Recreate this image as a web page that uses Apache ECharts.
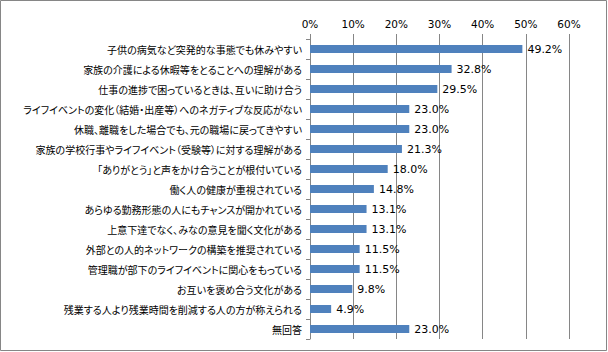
<!DOCTYPE html>
<html>
<head>
<meta charset="utf-8">
<script src="https://cdn.jsdelivr.net/npm/echarts@6/dist/echarts.min.js"></script>
<style>
  html, body { margin: 0; padding: 0; background: #fff; }
  #chart { width: 608px; height: 352px; font-feature-settings: "palt"; }
  #chart text { font-feature-settings: "palt"; }
</style>
</head>
<body>
<div id="chart"></div>
<script>
const categories = [
  '子供の病気など突発的な事態でも休みやすい',
  '家族の介護による休暇等をとることへの理解がある',
  '仕事の進捗で困っているときは、互いに助け合う',
  'ライフイベントの変化（結婚・出産等）へのネガティブな反応がない',
  '休職、離職をした場合でも、元の職場に戻ってきやすい',
  '家族の学校行事やライフイベント（受験等）に対する理解がある',
  '「ありがとう」と声をかけ合うことが根付いている',
  '働く人の健康が重視されている',
  'あらゆる勤務形態の人にもチャンスが開かれている',
  '上意下達でなく、みなの意見を聞く文化がある',
  '外部との人的ネットワークの構築を推奨されている',
  '管理職が部下のライフイベントに関心をもっている',
  'お互いを褒め合う文化がある',
  '残業する人より残業時間を削減する人の方が称えられる',
  '無回答'
]
const values = [49.2, 32.8, 29.5, 23.0, 23.0, 21.3, 18.0, 14.8, 13.1, 13.1, 11.5, 11.5, 9.8, 4.9, 23.0]

const gridColor = '#868686'
const chart = echarts.init(document.getElementById('chart'), null, { renderer: 'svg' })
chart.setOption({
  animation: false,
  backgroundColor: '#fff',
  graphic: [
    {
      type: 'rect',
      shape: { x: 0.5, y: 0.5, width: 606, height: 350 },
      style: { fill: 'none', stroke: gridColor, lineWidth: 1 },
      silent: true
    }
  ],
  grid: { left: 310, right: 39, top: 39, bottom: 13, outerBoundsMode: 'none', containLabel: false },
  xAxis: {
    type: 'value',
    position: 'top',
    min: 0,
    max: 60,
    interval: 10,
    axisLine: { show: false },
    axisTick: { show: true, length: 5, lineStyle: { color: gridColor } },
    splitLine: { show: true, lineStyle: { color: gridColor, width: 1 } },
    axisLabel: {
      formatter: '{value}%',
      color: '#000',
      fontFamily: 'DejaVu Sans',
      fontSize: 10.5,
      margin: 10
    }
  },
  yAxis: {
    type: 'category',
    inverse: true,
    data: categories,
    axisLine: { show: true, lineStyle: { color: gridColor } },
    axisTick: { show: true, length: 4, lineStyle: { color: gridColor } },
    axisLabel: {
      color: '#000',
      fontFamily: 'Noto Sans CJK JP',
      fontSize: 10,
      margin: 8
    }
  },
  series: [
    {
      type: 'bar',
      data: values,
      barWidth: 8,
      itemStyle: { color: '#4F81BD' },
      label: {
        show: true,
        position: 'right',
        distance: 5,
        formatter: p => p.value.toFixed(1) + '%',
        color: '#000',
        fontFamily: 'DejaVu Sans',
        fontSize: 11
      }
    }
  ]
})
</script>
</body>
</html>
